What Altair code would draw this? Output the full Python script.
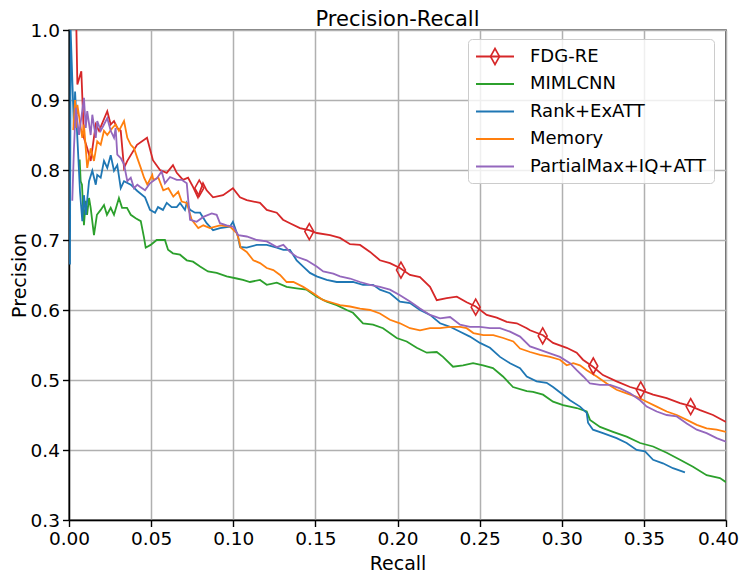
import altair as alt
import pandas as pd

series_names = ["FDG-RE", "MIMLCNN", "Rank+ExATT", "Memory", "PartialMax+IQ+ATT"]
series_colors = ["#d62728", "#2ca02c", "#1f77b4", "#ff7f0e", "#9467bd"]
chart_title = "Precision-Recall"

fdg_x = [0.0045, 0.0051, 0.0075, 0.0081, 0.0091, 0.0111, 0.0132, 0.0163, 0.0183, 0.0233,
         0.0254, 0.0274, 0.0294, 0.0315, 0.0335, 0.0355, 0.0414, 0.0475, 0.0511, 0.0554,
         0.0595, 0.0633, 0.0656, 0.0694, 0.0725, 0.0755, 0.0785, 0.0816, 0.0838, 0.0877,
         0.0938, 0.0998, 0.1041, 0.1082, 0.1163, 0.1204, 0.1265, 0.1303, 0.1345, 0.1406,
         0.1461, 0.1508, 0.1589, 0.1650, 0.1711, 0.1772, 0.1833, 0.1893, 0.1954, 0.2015,
         0.2076, 0.2137, 0.2198, 0.2239, 0.2300, 0.2361, 0.2421, 0.2476, 0.2543, 0.2604,
         0.2665, 0.2726, 0.2787, 0.2807, 0.2886, 0.2947, 0.3030, 0.3091, 0.3129, 0.3190,
         0.3251, 0.3334, 0.3416, 0.3477, 0.3556, 0.3639, 0.3720, 0.3781, 0.3842, 0.3921,
         0.4000]
fdg_y = [1.000, 0.922, 0.941, 0.905, 0.846, 0.831, 0.813, 0.865, 0.856, 0.884,
         0.865, 0.870, 0.860, 0.856, 0.803, 0.813, 0.836, 0.846, 0.814, 0.800,
         0.796, 0.807, 0.796, 0.786, 0.789, 0.776, 0.761, 0.781, 0.771, 0.761,
         0.764, 0.774, 0.761, 0.757, 0.753, 0.743, 0.739, 0.729, 0.724, 0.717,
         0.714, 0.710, 0.707, 0.703, 0.694, 0.693, 0.683, 0.671, 0.667, 0.660,
         0.650, 0.647, 0.633, 0.614, 0.617, 0.619, 0.611, 0.605, 0.593, 0.589,
         0.583, 0.581, 0.574, 0.571, 0.564, 0.553, 0.546, 0.539, 0.529, 0.519,
         0.507, 0.498, 0.490, 0.486, 0.479, 0.474, 0.467, 0.463, 0.457, 0.450,
         0.440]

fdg_marker_x = [0.0793, 0.1463, 0.2021, 0.2476, 0.2884, 0.3192, 0.3481, 0.3785]
fdg_marker_y = [0.774, 0.712, 0.657, 0.604, 0.563, 0.520, 0.486, 0.462]

miml_x = [0.0065, 0.0071, 0.0079, 0.0091, 0.0102, 0.0110, 0.0122, 0.0132, 0.0152, 0.0170,
          0.0193, 0.0213, 0.0231, 0.0254, 0.0274, 0.0304, 0.0323, 0.0353, 0.0376, 0.0406,
          0.0437, 0.0457, 0.0467, 0.0497, 0.0534, 0.0584, 0.0603, 0.0633, 0.0676, 0.0717,
          0.0755, 0.0798, 0.0846, 0.0899, 0.0960, 0.1021, 0.1059, 0.1102, 0.1163, 0.1204,
          0.1265, 0.1325, 0.1386, 0.1447, 0.1508, 0.1569, 0.1630, 0.1691, 0.1729, 0.1790,
          0.1851, 0.1912, 0.1995, 0.2056, 0.2117, 0.2178, 0.2239, 0.2277, 0.2338, 0.2399,
          0.2460, 0.2521, 0.2581, 0.2642, 0.2703, 0.2787, 0.2825, 0.2886, 0.2947, 0.3008,
          0.3091, 0.3152, 0.3172, 0.3233, 0.3312, 0.3395, 0.3477, 0.3556, 0.3639, 0.3720,
          0.3799, 0.3882, 0.3963, 0.4000]
miml_y = [0.815, 0.784, 0.779, 0.721, 0.756, 0.736, 0.760, 0.746, 0.707, 0.736,
          0.743, 0.750, 0.736, 0.746, 0.736, 0.760, 0.746, 0.746, 0.736, 0.731,
          0.727, 0.703, 0.689, 0.693, 0.700, 0.700, 0.686, 0.681, 0.679, 0.671,
          0.669, 0.662, 0.655, 0.653, 0.648, 0.645, 0.643, 0.640, 0.643, 0.636,
          0.639, 0.633, 0.631, 0.629, 0.619, 0.612, 0.607, 0.600, 0.596, 0.581,
          0.579, 0.574, 0.560, 0.555, 0.546, 0.539, 0.540, 0.533, 0.519, 0.521,
          0.524, 0.521, 0.517, 0.505, 0.490, 0.484, 0.483, 0.479, 0.469, 0.464,
          0.460, 0.455, 0.443, 0.433, 0.426, 0.419, 0.410, 0.405, 0.396, 0.386,
          0.376, 0.364, 0.360, 0.354]

rank_x = [0.0006, 0.0010, 0.0030, 0.0037, 0.0057, 0.0067, 0.0081, 0.0091, 0.0102, 0.0122,
          0.0142, 0.0163, 0.0172, 0.0193, 0.0213, 0.0233, 0.0254, 0.0274, 0.0294, 0.0315,
          0.0335, 0.0376, 0.0416, 0.0463, 0.0493, 0.0524, 0.0542, 0.0572, 0.0595, 0.0625,
          0.0656, 0.0676, 0.0706, 0.0717, 0.0737, 0.0767, 0.0798, 0.0838, 0.0877, 0.0919,
          0.0980, 0.0998, 0.1029, 0.1041, 0.1082, 0.1143, 0.1204, 0.1265, 0.1305, 0.1345,
          0.1386, 0.1426, 0.1467, 0.1508, 0.1569, 0.1630, 0.1691, 0.1729, 0.1790, 0.1851,
          0.1893, 0.1954, 0.2015, 0.2076, 0.2137, 0.2198, 0.2259, 0.2320, 0.2381, 0.2441,
          0.2502, 0.2563, 0.2624, 0.2685, 0.2746, 0.2787, 0.2847, 0.2908, 0.2947, 0.3008,
          0.3050, 0.3111, 0.3152, 0.3160, 0.3190, 0.3251, 0.3334, 0.3395, 0.3456, 0.3507,
          0.3556, 0.3616, 0.3677, 0.3750]
rank_y = [0.665, 1.000, 0.860, 0.912, 0.817, 0.769, 0.727, 0.764, 0.736, 0.784,
          0.799, 0.779, 0.793, 0.789, 0.813, 0.803, 0.821, 0.799, 0.807, 0.774,
          0.784, 0.779, 0.770, 0.761, 0.743, 0.739, 0.747, 0.743, 0.753, 0.747,
          0.747, 0.753, 0.743, 0.753, 0.743, 0.739, 0.739, 0.724, 0.714, 0.717,
          0.719, 0.726, 0.705, 0.690, 0.689, 0.693, 0.693, 0.689, 0.686, 0.686,
          0.671, 0.662, 0.653, 0.648, 0.643, 0.640, 0.640, 0.640, 0.636, 0.636,
          0.629, 0.624, 0.612, 0.610, 0.600, 0.593, 0.581, 0.576, 0.569, 0.562,
          0.553, 0.546, 0.533, 0.524, 0.517, 0.505, 0.498, 0.496, 0.490, 0.479,
          0.471, 0.462, 0.453, 0.439, 0.429, 0.424, 0.417, 0.410, 0.400, 0.398,
          0.386, 0.381, 0.374, 0.368]

mem_x = [0.0026, 0.0037, 0.0041, 0.0051, 0.0081, 0.0091, 0.0111, 0.0132, 0.0152, 0.0172,
         0.0193, 0.0213, 0.0233, 0.0264, 0.0284, 0.0304, 0.0335, 0.0355, 0.0376, 0.0396,
         0.0416, 0.0437, 0.0457, 0.0477, 0.0507, 0.0513, 0.0544, 0.0574, 0.0605, 0.0635,
         0.0665, 0.0686, 0.0717, 0.0747, 0.0787, 0.0818, 0.0858, 0.0919, 0.0980, 0.1021,
         0.1035, 0.1045, 0.1082, 0.1122, 0.1163, 0.1204, 0.1244, 0.1285, 0.1325, 0.1366,
         0.1426, 0.1487, 0.1548, 0.1609, 0.1650, 0.1711, 0.1772, 0.1833, 0.1893, 0.1954,
         0.2015, 0.2076, 0.2137, 0.2198, 0.2259, 0.2320, 0.2381, 0.2421, 0.2462, 0.2523,
         0.2583, 0.2644, 0.2705, 0.2746, 0.2807, 0.2868, 0.2928, 0.2989, 0.3030, 0.3070,
         0.3111, 0.3152, 0.3213, 0.3274, 0.3334, 0.3395, 0.3456, 0.3517, 0.3578, 0.3639,
         0.3700, 0.3761, 0.3822, 0.3882, 0.3943, 0.4000]
mem_y = [0.857, 0.900, 0.860, 0.893, 0.846, 0.865, 0.803, 0.831, 0.813, 0.841,
         0.836, 0.856, 0.850, 0.860, 0.865, 0.856, 0.870, 0.846, 0.836, 0.831,
         0.817, 0.803, 0.789, 0.779, 0.793, 0.786, 0.789, 0.771, 0.774, 0.762,
         0.769, 0.755, 0.753, 0.729, 0.717, 0.721, 0.717, 0.721, 0.719, 0.710,
         0.700, 0.689, 0.683, 0.671, 0.667, 0.660, 0.657, 0.650, 0.640, 0.640,
         0.633, 0.624, 0.614, 0.610, 0.607, 0.605, 0.602, 0.600, 0.595, 0.586,
         0.581, 0.574, 0.571, 0.574, 0.574, 0.576, 0.576, 0.574, 0.567, 0.564,
         0.564, 0.560, 0.555, 0.545, 0.540, 0.536, 0.533, 0.529, 0.521, 0.524,
         0.521, 0.514, 0.505, 0.495, 0.486, 0.481, 0.476, 0.469, 0.462, 0.455,
         0.450, 0.443, 0.436, 0.431, 0.429, 0.426]

pm_x = [0.0020, 0.0030, 0.0041, 0.0061, 0.0091, 0.0102, 0.0111, 0.0132, 0.0142, 0.0163,
        0.0172, 0.0193, 0.0213, 0.0233, 0.0254, 0.0274, 0.0284, 0.0294, 0.0315, 0.0335,
        0.0355, 0.0376, 0.0396, 0.0416, 0.0432, 0.0463, 0.0493, 0.0534, 0.0564, 0.0584,
        0.0615, 0.0656, 0.0686, 0.0717, 0.0726, 0.0737, 0.0777, 0.0818, 0.0869, 0.0899,
        0.0919, 0.0960, 0.1000, 0.1031, 0.1082, 0.1143, 0.1204, 0.1265, 0.1305, 0.1345,
        0.1386, 0.1447, 0.1508, 0.1548, 0.1609, 0.1650, 0.1711, 0.1772, 0.1833, 0.1893,
        0.1954, 0.2015, 0.2076, 0.2137, 0.2198, 0.2259, 0.2320, 0.2381, 0.2441, 0.2502,
        0.2563, 0.2624, 0.2685, 0.2746, 0.2807, 0.2868, 0.2928, 0.2989, 0.3050, 0.3091,
        0.3131, 0.3172, 0.3233, 0.3294, 0.3355, 0.3416, 0.3477, 0.3517, 0.3578, 0.3639,
        0.3700, 0.3761, 0.3822, 0.3882, 0.3943, 0.4000]
pm_y = [0.756, 0.830, 0.889, 0.850, 0.903, 0.860, 0.884, 0.850, 0.879, 0.846,
        0.870, 0.856, 0.865, 0.874, 0.856, 0.846, 0.860, 0.822, 0.817, 0.808,
        0.784, 0.789, 0.774, 0.779, 0.776, 0.771, 0.781, 0.788, 0.798, 0.781,
        0.790, 0.786, 0.786, 0.781, 0.757, 0.729, 0.726, 0.733, 0.738, 0.736,
        0.724, 0.721, 0.719, 0.707, 0.705, 0.700, 0.698, 0.690, 0.693, 0.683,
        0.676, 0.671, 0.662, 0.655, 0.652, 0.648, 0.645, 0.640, 0.636, 0.633,
        0.629, 0.621, 0.612, 0.602, 0.593, 0.588, 0.590, 0.579, 0.576, 0.576,
        0.574, 0.574, 0.569, 0.562, 0.548, 0.543, 0.538, 0.533, 0.524, 0.514,
        0.505, 0.495, 0.493, 0.493, 0.488, 0.481, 0.471, 0.462, 0.455, 0.450,
        0.448, 0.438, 0.429, 0.424, 0.417, 0.412]

x_ticks = [0.0, 0.05, 0.10, 0.15, 0.20, 0.25, 0.30, 0.35, 0.40]
y_ticks = [0.3, 0.4, 0.5, 0.6, 0.7, 0.8, 0.9, 1.0]

rows = []
for name, xs, ys in zip(series_names,
                        [fdg_x, miml_x, rank_x, mem_x, pm_x],
                        [fdg_y, miml_y, rank_y, mem_y, pm_y]):
    for i, (xv, yv) in enumerate(zip(xs, ys)):
        rows.append({"series": name, "recall": xv, "precision": yv, "i": i})
lines_df = pd.DataFrame(rows)
markers_df = pd.DataFrame({"recall": fdg_marker_x, "precision": fdg_marker_y,
                           "marker": ["FDG-RE"] * len(fdg_marker_x)})
title_df = pd.DataFrame({"t": [chart_title]})

FONT = "DejaVu Sans"
DIAMOND = "M0,-1L0.56,0L0,1L-0.56,0Z"
W, H = 657, 490

x_enc = alt.X("recall:Q",
              scale=alt.Scale(domain=[0, 0.4], nice=False, zero=False),
              axis=alt.Axis(title="Recall", values=x_ticks, format=".2f",
                            labelFlush=False,
                            labelOffset={"condition": {"test": "datum.value >= 0.399",
                                                       "value": -8},
                                         "value": 0},
                            titleY=49, titleBaseline="alphabetic",
                            labelBaseline="alphabetic", labelPadding=18))
y_enc = alt.Y("precision:Q",
              scale=alt.Scale(domain=[0.3, 1.0], nice=False, zero=False),
              axis=alt.Axis(title="Precision", values=y_ticks, format=".1f",
                            labelFlush=False,
                            titleAngle=270, titleX=-44, titleY=245,
                            titleAlign="center", titleBaseline="alphabetic",
                            labelPadding=3, labelBaseline="middle"))

color_enc = alt.Color(
    "series:N",
    scale=alt.Scale(domain=series_names, range=series_colors),
    legend=alt.Legend(
        title=None, orient="none", legendX=399, legendY=9, zindex=1,
        symbolType="M-1,0H3", symbolSize=361, symbolStrokeWidth=1.8,
        labelOffset=34, rowPadding=7.5, labelFontSize=18, labelFont=FONT,
        labelColor="black", labelLimit=400, padding=7,
        fillColor="rgba(255,255,255,0.8)", strokeColor="#cccccc",
        cornerRadius=4))

shape_enc = alt.Shape(
    "marker:N",
    scale=alt.Scale(domain=["FDG-RE"], range=[DIAMOND]),
    legend=alt.Legend(
        title=None, orient="none", legendX=417, legendY=17.5, zindex=2,
        symbolSize=256, symbolStrokeWidth=1.6, symbolStrokeColor="#d62728",
        symbolFillColor="white", labelExpr="''", labelFontSize=1,
        padding=0, labelOffset=0))

lines = alt.Chart(lines_df).mark_line(strokeWidth=1.8, clip=True).encode(
    x=x_enc, y=y_enc, color=color_enc, order=alt.Order("i:Q"))

markers = alt.Chart(markers_df).mark_point(
    size=256, filled=False, strokeWidth=1.6, opacity=1, color="#d62728").encode(
    x="recall:Q", y="precision:Q", shape=shape_enc)

title_text = alt.Chart(title_df).mark_text(
    font=FONT, fontSize=21, color="black", align="center",
    baseline="alphabetic").encode(
    text="t:N", x=alt.value(W / 2), y=alt.value(-4.5))

chart = alt.layer(lines, markers, title_text).properties(
    width=W, height=H,
    autosize=alt.AutoSizeParams(type="none"),
    padding={"left": 61, "top": 22, "right": 13, "bottom": 53},
).configure_view(stroke="black", strokeWidth=1.4).configure_axis(
    labelFont=FONT, titleFont=FONT, labelFontSize=18.5, titleFontSize=19,
    labelColor="black", titleColor="black", titleFontWeight="normal",
    grid=True, gridColor="#b0b0b0", gridWidth=1.5,
    domainColor="black", domainWidth=1.4, tickColor="black", tickWidth=1.4,
    tickSize=6.5,
)

chart.save("out.html", embed_options={"renderer": "svg", "actions": False})
